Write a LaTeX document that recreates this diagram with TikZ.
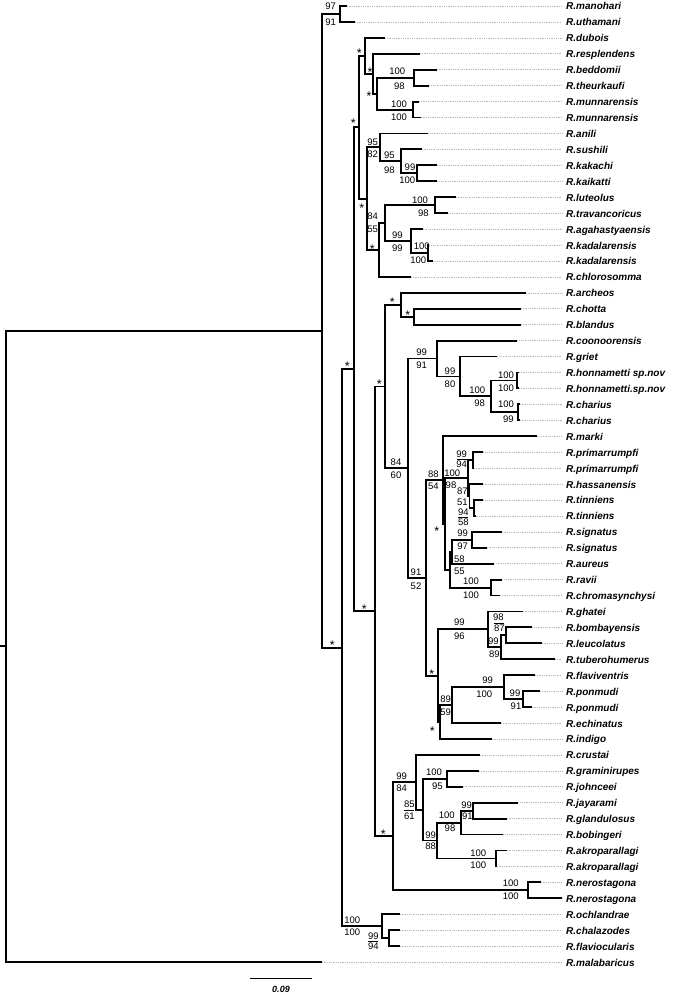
\documentclass[tikz,border=0pt]{standalone}
\usepackage{fontspec}
\usetikzlibrary{calc}
\setmainfont{Liberation Sans}
\newcommand\tipfont{\fontsize{10}{12}\selectfont\bfseries\itshape}
\newcommand\supfont{\fontsize{9.5}{11}\selectfont}
\newcommand\starfont{\fontsize{12.5}{14}\selectfont}
\begin{document}
\begin{tikzpicture}[x=1pt,y=-1pt,
  br/.style={line width=1.9pt,line join=miter},
  ld/.style={gray!55,line width=0.6pt,dash pattern=on 0.8pt off 1pt,shorten >=4pt},
  tl/.style={font=\tipfont,inner sep=0pt,anchor=base west},
  bs/.style={font=\supfont,inner sep=0pt,anchor=center},
  st/.style={font=\starfont,inner sep=0pt,anchor=center,yshift=-3pt},
  fb/.style={line width=0.6pt}]
\useasboundingbox (0,0) rectangle (672,995);
\fill[white] (0,0) rectangle (672,995);
% internal nodes
\coordinate (root) at (6,646.4);
\coordinate (rs) at (0,646.4);
\coordinate (N1) at (322.3,330.85);
\coordinate (MU) at (340,14);
\coordinate (N2) at (341.7,647.7);
\coordinate (N3) at (354.3,369.3);
\coordinate (U0) at (359.3,127.25);
\coordinate (U1) at (365,55.8);
\coordinate (U2) at (373.3,73.7);
\coordinate (U3) at (377.3,93.65);
\coordinate (BT) at (414.3,77.7);
\coordinate (MM) at (413.3,109.6);
\coordinate (U4) at (366.7,198.7);
\coordinate (A1) at (380,147.4);
\coordinate (A2) at (401,161.35);
\coordinate (A3) at (416.7,173.3);
\coordinate (B1) at (379.3,250);
\coordinate (B2) at (385,223.1);
\coordinate (C1) at (435,205.15);
\coordinate (C2) at (411,241);
\coordinate (K) at (428.3,252.95);
\coordinate (N4) at (375,611.4);
\coordinate (N5) at (385,386.5);
\coordinate (P1) at (401,304.75);
\coordinate (P1b) at (414.3,316.7);
\coordinate (P2) at (408.3,468.2);
\coordinate (Q1) at (436.7,358.5);
\coordinate (Q1b) at (460.3,376.45);
\coordinate (Q1c) at (490.7,396.4);
\coordinate (H) at (517.3,380.45);
\coordinate (Ch) at (518.3,412.3);
\coordinate (Q2) at (426,577.85);
\coordinate (R1) at (442.7,480);
\coordinate (R1b) at (445,523.8);
\coordinate (S1) at (467.7,478);
\coordinate (Pp) at (472.7,460.1);
\coordinate (S1b) at (469.5,495.95);
\coordinate (Tn) at (474,507.9);
\coordinate (S2) at (450,569.6);
\coordinate (T1) at (452.3,551.7);
\coordinate (Sg) at (471.7,539.75);
\coordinate (T2) at (490.7,587.55);
\coordinate (R2) at (438.3,675.7);
\coordinate (V1) at (487.7,629.4);
\coordinate (V2) at (501,647.3);
\coordinate (V3) at (506,635.35);
\coordinate (R3) at (440,722);
\coordinate (W1) at (451.7,705.1);
\coordinate (W2) at (504.3,687.15);
\coordinate (Pn) at (522.7,699.1);
\coordinate (M0) at (393.3,836.3);
\coordinate (M1) at (416,782.25);
\coordinate (M2) at (422.7,809.6);
\coordinate (M3) at (447.3,778.75);
\coordinate (M4) at (437.3,840.5);
\coordinate (M5) at (460.7,822.6);
\coordinate (M6) at (473.3,810.65);
\coordinate (Ak) at (496,858.45);
\coordinate (Ne) at (527.7,890.3);
\coordinate (G0) at (382.3,926.15);
\coordinate (G1) at (389,938.1);
% internal edges
\draw[br] (rs) -- (root);
\foreach \p/\c in {root/N1,N1/MU,N1/N2,N2/N3,N2/G0,N3/U0,N3/N4,U0/U1,U0/U4,U1/U2,U2/U3,U3/BT,U3/MM,
  U4/A1,U4/B1,A1/A2,A2/A3,B1/B2,B2/C1,B2/C2,C2/K,N4/N5,N4/M0,N5/P1,N5/P2,P1/P1b,P2/Q1,P2/Q2,
  Q1/Q1b,Q1b/Q1c,Q1c/H,Q1c/Ch,Q2/R1,Q2/R2,R1/R1b,R1b/S1,R1b/S2,S1/Pp,S1/S1b,S1b/Tn,S2/T1,S2/T2,
  T1/Sg,R2/V1,R2/R3,V1/V2,V2/V3,R3/W1,W1/W2,W2/Pn,M0/M1,M0/Ne,M1/M2,M2/M3,M2/M4,M4/M5,M4/Ak,
  M5/M6,G0/G1}
  \draw[br] (\p) |- (\c);
% tips
\foreach \n/\p/\x/\y/\t in {
 1/MU/346.7/6.0/R.manohari, 2/MU/355/21.9/R.uthamani, 3/U1/385/37.9/R.dubois,
 4/U2/420/53.8/R.resplendens, 5/BT/436.7/69.7/R.beddomii, 6/BT/429.3/85.7/R.theurkaufi,
 7/MM/419/101.6/R.munnarensis, 8/MM/420.7/117.5/R.munnarensis, 9/A1/428.3/133.5/R.anili,
 10/A2/421.7/149.4/R.sushili, 11/A3/436.7/165.3/R.kakachi, 12/A3/437.3/181.3/R.kaikatti,
 13/C1/456/197.2/R.luteolus, 14/C1/448.3/213.1/R.travancoricus, 15/C2/422.7/229.1/R.agahastyaensis,
 16/K/429.3/245.0/R.kadalarensis, 17/K/433.3/260.9/R.kadalarensis, 18/B1/411/276.9/R.chlorosomma,
 19/P1/525.7/292.8/R.archeos, 20/P1b/521/308.7/R.chotta, 21/P1b/521/324.7/R.blandus,
 22/Q1/517.3/340.6/R.coonoorensis, 23/Q1b/497.3/356.5/R.griet, 24/H/519/372.5/R.honnametti sp.nov,
 25/H/519/388.4/R.honnametti.sp.nov, 26/Ch/520/404.3/R.charius, 27/Ch/520/420.3/R.charius,
 28/R1/537.3/436.2/R.marki, 29/Pp/483.3/452.1/R.primarrumpfi, 30/Pp/474/468.1/R.primarrumpfi,
 31/S1b/482.7/484.0/R.hassanensis, 32/Tn/483.3/499.9/R.tinniens, 33/Tn/475.5/515.9/R.tinniens,
 34/Sg/501.7/531.8/R.signatus, 35/Sg/486.7/547.7/R.signatus, 36/T1/494/563.7/R.aureus,
 37/T2/502.3/579.6/R.ravii, 38/T2/500/595.5/R.chromasynchysi, 39/V1/522.7/611.5/R.ghatei,
 40/V3/532.3/627.4/R.bombayensis, 41/V3/541.7/643.3/R.leucolatus, 42/V2/555/659.3/R.tuberohumerus,
 43/W2/535/675.2/R.flaviventris, 44/Pn/540/691.1/R.ponmudi, 45/Pn/531.7/707.1/R.ponmudi,
 46/W1/501/723.0/R.echinatus, 47/R3/491.7/738.9/R.indigo, 48/M1/480/754.9/R.crustai,
 49/M3/479/770.8/R.graminirupes, 50/M3/462.7/786.7/R.johnceei, 51/M6/518.3/802.7/R.jayarami,
 52/M6/506.7/818.6/R.glandulosus, 53/M5/503.3/834.5/R.bobingeri, 54/Ak/506.7/850.5/R.akroparallagi,
 55/Ak/496.7/866.4/R.akroparallagi, 56/Ne/540.7/882.3/R.nerostagona, 57/Ne/561.7/898.3/R.nerostagona,
 58/G0/400/914.2/R.ochlandrae, 59/G1/400/930.1/R.chalazodes, 60/G1/400/946.1/R.flaviocularis,
 61/root/321.7/962.0/R.malabaricus}
{
  \coordinate (e\n) at (\x,\y);
  \node[tl] (n\n) at (566,\y+4) {\t};
  \draw[br] (\p) |- (e\n);
  \draw[ld] (e\n) -- (e\n -| n\n.west);
}
% support values
\foreach \i/\x/\y/\t in {
 a1/330.7/6/97, a2/330.7/22.7/91,
 a3/397.3/71.7/100, a4/399.3/86/98, a5/399/104/100, a6/399/117.3/100,
 a7/372.7/142/95, a8/372.7/154/82, a9/389.3/155/95, a10/389.3/170/98, a11/410/167.3/99, a12/407.3/180.7/100,
 a13/420/200/100, a14/423.3/213.3/98, a15/372.7/216.7/84, a16/372.7/229.3/55,
 a17/397.3/235/99, a18/397.3/248.3/99, a19/421.7/246.7/100, a20/418.3/260/100,
 a21/421.7/352.7/99, a22/421.7/365.7/91, a23/450/371/99, a24/450/384/80,
 a25/477.3/390.7/100, a26/479.7/403.3/98, a27/506/375/100, a28/506/388.3/100,
 a29/506/404.3/100, a30/508.3/419.3/99, a31/396/462.7/84, a32/396/475/60,
 a33/433.3/474/88, a34/433.3/486/54, a35/461.7/454/99, a36/461.7/464.3/94,
 a37/452.3/473.3/100, a38/451/485/98, a39/462.3/491.7/87, a40/462.3/502.3/51,
 a41/463.3/512.3/94, a42/463.3/522.3/58, a43/462.7/533.3/99, a44/462.7/546.7/97,
 a45/459.3/559/58, a46/459.3/571.7/55, a47/416/572.3/91, a48/416/586/52,
 a49/471/581.7/100, a50/471/595/100, a51/459.3/622.7/99, a52/459.3/636/96,
 a53/498.3/617.3/98, a54/499.3/628.3/87, a55/493.3/641.7/99, a56/494.3/654.3/89,
 a57/487.7/680/99, a58/484.3/694.3/100, a59/515/693.3/99, a60/516/706.7/91,
 a61/445.7/699/89, a62/445.7/712.3/59, a63/401.7/776.7/99, a64/401.7/788.3/84,
 a65/434/772.3/100, a66/437.3/786/95, a67/409.3/804/85, a68/409.3/816/61,
 a69/466.7/805/99, a70/467.3/816.7/91, a71/446.7/815.7/100, a72/450/828.3/98,
 a73/430.7/835/99, a74/430.7/846.7/88, a75/478.3/853.3/100, a76/478.3/865/100,
 a77/510.7/883.3/100, a78/510.7/896.7/100, a79/352.3/920/100, a80/352.3/932.7/100,
 a81/373.3/936/99, a82/373.3/946.7/94}
  \node[bs] (\i) at (\x,\y) {\t};
% asterisks
\foreach \i/\x/\y in {s1/359.3/50.7, s2/370/69, s3/369/93.3, s4/353.3/120.7, s5/361.7/205,
 s6/372.3/246, s7/347.3/363.3, s8/332.3/642, s9/364.3/606.3, s10/379.3/381, s11/392.3/299,
 s12/407.7/311.7, s13/436.7/528.3, s14/431.7/670.7, s15/432.3/728.3, s16/383.3/830.7}
  \node[st] (\i) at (\x,\y) {*};
% fraction bars
\foreach \a/\b in {a35/a36, a41/a42, a53/a54, a67/a68, a81/a82}
  \draw[fb] ([xshift=-5pt]$(\a)!0.5!(\b)$) -- ([xshift=5pt]$(\a)!0.5!(\b)$);
% scale bar
\coordinate (sb1) at (250,978);
\coordinate (sb2) at (312,978);
\draw[line width=0.8pt] (sb1) -- (sb2);
\node[font=\fontsize{9}{10}\selectfont\bfseries\itshape,inner sep=0pt] (sbl) at (281,989) {0.09};
\end{tikzpicture}
\end{document}
